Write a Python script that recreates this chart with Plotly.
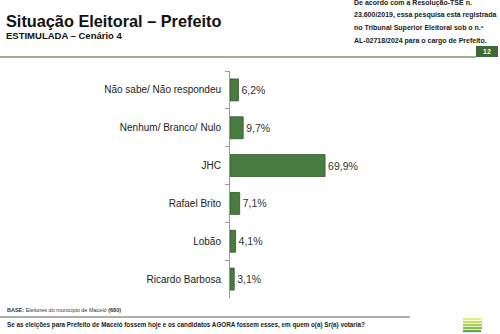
import plotly.graph_objects as go

categories = ["Não sabe/ Não respondeu", "Nenhum/ Branco/ Nulo", "JHC", "Rafael Brito", "Lobão", "Ricardo Barbosa"]
values = [6.2, 9.7, 69.9, 7.1, 4.1, 3.1]
labels = ["6,2%", "9,7%", "69,9%", "7,1%", "4,1%", "3,1%"]

W, H = 500, 334

def py(p):
    return 1 - p / H

def px(p):
    return p / W

fig = go.Figure()
fig.add_trace(go.Bar(
    x=values, y=categories, orientation="h",
    text=labels, textposition="outside", cliponaxis=False,
    textfont=dict(family="Liberation Sans, Arial", size=10.5, color="#333333"),
    marker=dict(color="#4a7c41", line=dict(color="#2f5628", width=0.8)),
    width=0.58,
))

fig.update_layout(
    width=W, height=H, margin=dict(l=0, r=0, t=0, b=0),
    paper_bgcolor="white", plot_bgcolor="white",
    showlegend=False,
    font=dict(family="Liberation Sans, Arial", color="#222222"),
    xaxis=dict(domain=[px(230), 1], range=[0, 270 / 1.36], visible=False),
    yaxis=dict(domain=[py(298), py(71)], autorange="reversed",
               showline=True, linecolor="#9a9a9a", linewidth=1,
               ticks="outside", tickson="boundaries", ticklen=4, tickcolor="#9a9a9a",
               tickfont=dict(family="Liberation Sans, Arial", size=10, color="#222222"),
               ticklabelstandoff=6, showgrid=False),
)

ann = []
ann.append(dict(text="<b>Situação Eleitoral – Prefeito</b>", x=px(4), y=py(21), xref="paper", yref="paper",
                xanchor="left", yanchor="middle", showarrow=False,
                font=dict(family="Liberation Sans, Arial", size=16.3, color="#111111")))
ann.append(dict(text="<b>ESTIMULADA – Cenário 4</b>", x=px(4), y=py(36), xref="paper", yref="paper",
                xanchor="left", yanchor="middle", showarrow=False,
                font=dict(family="Liberation Sans, Arial", size=9.5, color="#111111")))
right_lines = [
    ("De acordo com a Resolução-TSE n.", 3),
    ("23.600/2019, essa pesquisa está registrada", 15),
    ("no Tribunal Superior Eleitoral sob o n.º", 28),
    ("AL-02718/2024 para o cargo de Prefeito.", 41),
]
for t, yy in right_lines:
    ann.append(dict(text="<b>" + t + "</b>", x=px(352), y=py(yy), xref="paper", yref="paper",
                    xanchor="left", yanchor="middle", showarrow=False,
                    font=dict(family="Liberation Sans, Arial", size=7, color="#222222")))
ann.append(dict(text="<b>12</b>", x=px(487), y=py(51.5), xref="paper", yref="paper",
                xanchor="center", yanchor="middle", showarrow=False,
                font=dict(family="Liberation Sans, Arial", size=7, color="white")))
ann.append(dict(text="<b>BASE:</b> Eleitores do município de Maceió <b>(680)</b>", x=px(5), y=py(310),
                xref="paper", yref="paper", xanchor="left", yanchor="middle", showarrow=False,
                font=dict(family="Liberation Sans, Arial", size=5.5, color="#333333")))
ann.append(dict(text="<b>Se as eleições para Prefeito de Maceió fossem hoje e os candidatos AGORA fossem esses, em quem o(a) Sr(a) votaria?</b>",
                x=px(5), y=py(325), xref="paper", yref="paper", xanchor="left", yanchor="middle",
                showarrow=False, font=dict(family="Liberation Sans, Arial", size=6.3, color="#222222")))
fig.update_layout(annotations=ann)

shapes = []
shapes.append(dict(type="line", xref="paper", yref="paper", x0=0, x1=px(476), y0=py(57), y1=py(57),
                   line=dict(color="#a3ab9b", width=2)))
shapes.append(dict(type="rect", xref="paper", yref="paper", x0=px(476), x1=px(498), y0=py(57), y1=py(46),
                   fillcolor="#3f6a34", line=dict(width=0)))
shapes.append(dict(type="line", xref="paper", yref="paper", x0=0, x1=px(410), y0=py(317), y1=py(317),
                   line=dict(color="#5a6152", width=1)))
stripe_colors = ["#e3ec7a", "#c9df62", "#a9d05a", "#86bf4f", "#5fa845"]
for i, c in enumerate(stripe_colors):
    y0 = 318 + i * 3
    shapes.append(dict(type="rect", xref="paper", yref="paper", x0=px(463), x1=px(481 + (1 if i in (1, 2, 3) else 0)),
                       y0=py(y0 + 2.2), y1=py(y0), fillcolor=c, line=dict(width=0)))
fig.update_layout(shapes=shapes)

fig.write_html("out.html")
